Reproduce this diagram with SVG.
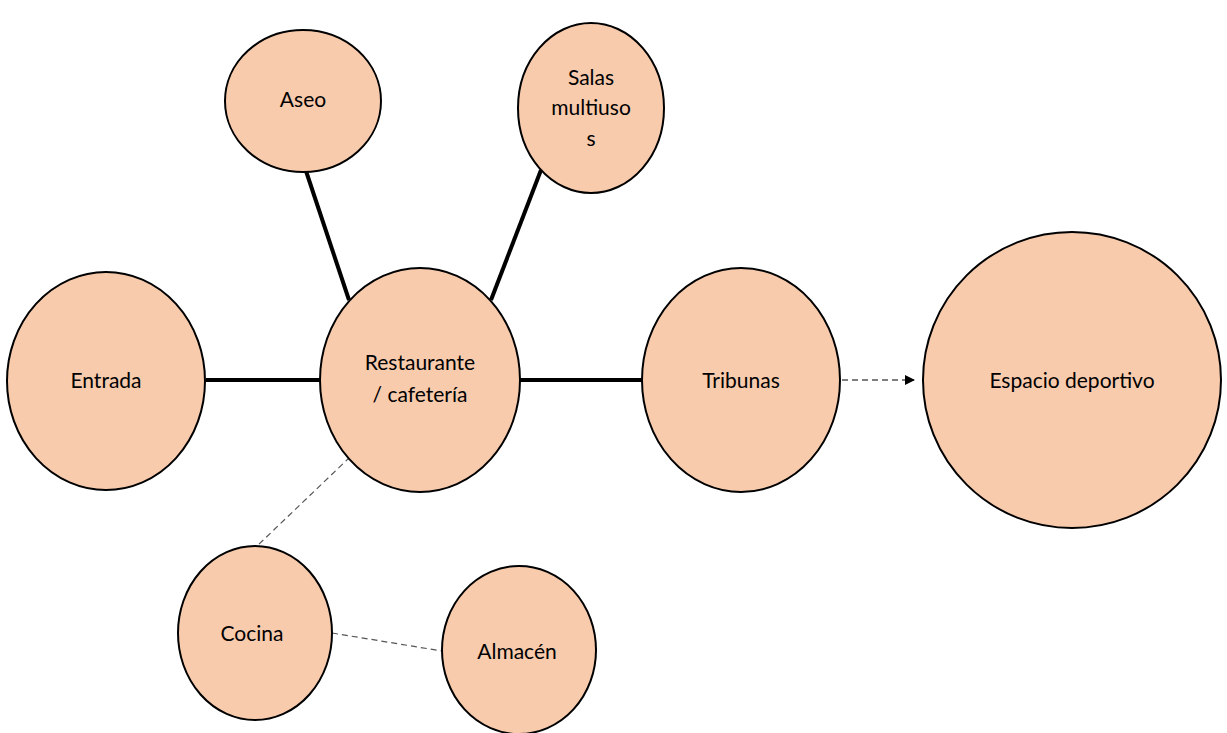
<svg xmlns="http://www.w3.org/2000/svg" width="1227" height="733" viewBox="0 0 1227 733">
<defs>
<style>
.n{fill:#f8cbad;stroke:#000;stroke-width:2}
.t{font-family:Lato,"Open Sans",sans-serif;font-size:21px;fill:#000;text-anchor:middle}
.s{stroke:#000;stroke-width:4;fill:none}
.d{stroke:#555;stroke-width:1.2;stroke-dasharray:6 4;fill:none}
.da{stroke:#000;stroke-width:1.2;stroke-dasharray:6 4;fill:none}
</style>
<marker id="ah" markerWidth="10" markerHeight="10" refX="9" refY="5" orient="auto" markerUnits="userSpaceOnUse"><path d="M0,0 L10,5 L0,10 Z" fill="#000"/></marker>
</defs>
<rect width="1227" height="733" fill="#fff"/>
<g id="connectors">
<line class="s" x1="206" y1="380" x2="320" y2="380"/>
<line class="s" x1="519" y1="380" x2="642" y2="380"/>
<line class="s" x1="304" y1="165" x2="349" y2="300"/>
<line class="s" x1="541" y1="170" x2="491" y2="300"/>
<line class="d" x1="350" y1="457" x2="256" y2="547"/>
<line class="d" x1="332" y1="633" x2="442" y2="651"/>
<line class="da" x1="842" y1="380" x2="914" y2="380" marker-end="url(#ah)"/>
</g>
<g id="entrada"><ellipse class="n" cx="106" cy="381" rx="99" ry="109"/><text class="t" x="106" y="388">Entrada</text></g>
<g id="restaurante"><ellipse class="n" cx="420" cy="380" rx="100" ry="112"/><text class="t" x="420" y="370">Restaurante</text><text class="t" x="420" y="402">/ cafetería</text></g>
<g id="aseo"><ellipse class="n" cx="303" cy="101" rx="78" ry="71"/><text class="t" x="303" y="107">Aseo</text></g>
<g id="salas"><ellipse class="n" cx="591" cy="108" rx="73" ry="85"/><text class="t" x="591" y="85">Salas</text><text class="t" x="591" y="115">multiuso</text><text class="t" x="591" y="146">s</text></g>
<g id="tribunas"><ellipse class="n" cx="741" cy="380" rx="99" ry="112"/><text class="t" x="741" y="388">Tribunas</text></g>
<g id="espacio"><ellipse class="n" cx="1072" cy="380" rx="149" ry="148"/><text class="t" x="1072" y="388">Espacio deportivo</text></g>
<g id="cocina"><ellipse class="n" cx="255" cy="633" rx="77" ry="87"/><text class="t" x="252" y="641">Cocina</text></g>
<g id="almacen"><ellipse class="n" cx="519" cy="650" rx="77" ry="84"/><text class="t" x="517" y="659">Almacén</text></g>
</svg>
